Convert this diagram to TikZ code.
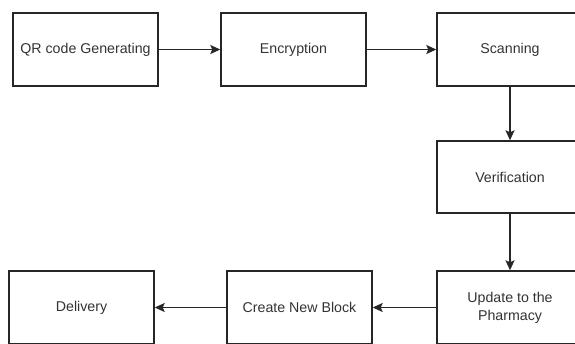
\documentclass[tikz,border=0pt]{standalone}
\usepackage{fontspec}
\setmainfont{Liberation Sans}
\usetikzlibrary{arrows.meta}
\definecolor{txt}{HTML}{333333}
\tikzset{
  box/.style={draw=black!85, line width=1.4pt, fill=white, minimum width=145pt, minimum height=73pt, inner sep=0pt, align=center, font=\fontsize{14.2}{18}\selectfont, text=txt},
  conn/.style={draw=black!85, line width=1.4pt, -{Stealth[length=10pt,width=9pt,inset=2pt]}}
}
\begin{document}
\begin{tikzpicture}[x=1pt,y=-1pt]
\useasboundingbox (0,0) rectangle (575,343);
\clip (0,0) rectangle (575,343);
\fill[white] (0,0) rectangle (575,343);
\node[box] (qr) at (85.5,49.5) {QR code Generating};
\node[box] (enc) at (293.5,49.5) {Encryption};
\node[box, minimum width=146pt] (scan) at (510,49.5) {Scanning};
\node[box, minimum width=146pt, minimum height=72pt] (ver) at (510,177) {Verification};
\node[box, minimum width=146pt] (upd) at (510,307.5) {Update to the\\Pharmacy};
\node[box] (cnb) at (299.5,307.5) {Create New Block};
\node[box] (del) at (81.5,307.5) {Delivery};
\draw[conn] (qr) -- (enc);
\draw[conn] (enc) -- (scan);
\draw[conn] (scan) -- (ver);
\draw[conn] (ver) -- (upd);
\draw[conn] (upd) -- (cnb);
\draw[conn] (cnb) -- (del);
\end{tikzpicture}
\end{document}
